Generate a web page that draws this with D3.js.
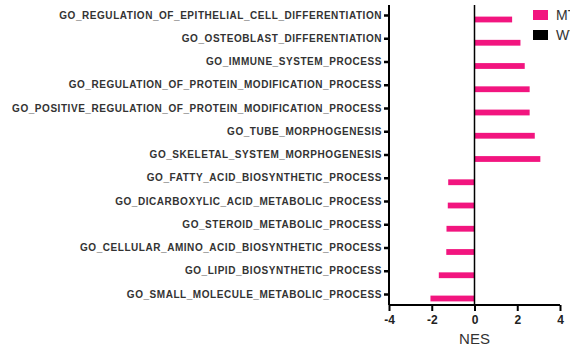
<!DOCTYPE html>
<html>
<head>
<meta charset="utf-8">
<script src="https://cdn.jsdelivr.net/npm/d3@7"></script>
<style>
  body { margin: 0; background: #fff; }
  svg { display: block; }
</style>
</head>
<body>
<div id="chart-container"></div>
<script>
// Data
const terms = [
  "GO_REGULATION_OF_EPITHELIAL_CELL_DIFFERENTIATION",
  "GO_OSTEOBLAST_DIFFERENTIATION",
  "GO_IMMUNE_SYSTEM_PROCESS",
  "GO_REGULATION_OF_PROTEIN_MODIFICATION_PROCESS",
  "GO_POSITIVE_REGULATION_OF_PROTEIN_MODIFICATION_PROCESS",
  "GO_TUBE_MORPHOGENESIS",
  "GO_SKELETAL_SYSTEM_MORPHOGENESIS",
  "GO_FATTY_ACID_BIOSYNTHETIC_PROCESS",
  "GO_DICARBOXYLIC_ACID_METABOLIC_PROCESS",
  "GO_STEROID_METABOLIC_PROCESS",
  "GO_CELLULAR_AMINO_ACID_BIOSYNTHETIC_PROCESS",
  "GO_LIPID_BIOSYNTHETIC_PROCESS",
  "GO_SMALL_MOLECULE_METABOLIC_PROCESS"
];
const nes = [1.76, 2.15, 2.35, 2.58, 2.58, 2.82, 3.08, -1.23, -1.25, -1.31, -1.32, -1.67, -2.06];
const xTicks = [-4, -2, 0, 2, 4];
const legendKeys = ["MT", "WT"];
const legendColors = ["#f2157f", "#000000"];

const margin = { top: 5, right: 10, bottom: 45, left: 389 };
const width = 560 - margin.left;
const height = 305 - margin.top;
const barH = 5.8;

const svg = d3.select("#chart-container")
  .append("svg")
    .attr("width", 570)
    .attr("height", 350)
  .append("g")
    .attr("transform", `translate(${margin.left},${margin.top})`);

const x = d3.scaleLinear().domain([-4, 4]).range([0, width]);
// tick positions per category; bars sit a few px below their tick
const y = d3.scalePoint().domain(terms).range([10, 289]);

// bars
svg.append("g")
  .selectAll("rect")
  .data(terms)
  .join("rect")
    .attr("x", (d, i) => x(Math.min(0, nes[i])))
    .attr("y", d => y(d) + 4.5 - barH / 2)
    .attr("width", (d, i) => Math.abs(x(nes[i]) - x(0)))
    .attr("height", barH)
    .attr("fill", legendColors[0]);

// zero line
svg.append("line")
  .attr("x1", x(0)).attr("x2", x(0))
  .attr("y1", 0).attr("y2", height)
  .attr("stroke", "#000")
  .attr("stroke-width", 1.5);

// y axis
const yAxis = svg.append("g")
  .call(d3.axisLeft(y).tickSize(5).tickPadding(2));
yAxis.select(".domain").attr("stroke-width", 2).attr("d", `M0,0V${height}`);
yAxis.selectAll(".tick line").attr("stroke-width", 2.5);
yAxis.selectAll("text")
  .style("font-family", "'Liberation Sans', Arial, sans-serif")
  .style("font-size", "10px")
  .style("font-weight", "bold")
  .style("letter-spacing", "0.55px")
  .style("fill", "#333");

// x axis
const xAxis = svg.append("g")
  .attr("transform", `translate(0,${height})`)
  .call(d3.axisBottom(x).tickValues(xTicks).tickFormat(d => String(d)).tickSize(6).tickPadding(4));
xAxis.select(".domain").attr("stroke-width", 2).attr("d", `M0,0H${width}`);
xAxis.selectAll(".tick line").attr("stroke-width", 2);
xAxis.selectAll("text")
  .style("font-family", "'Liberation Sans', Arial, sans-serif")
  .style("font-size", "12px")
  .style("font-weight", "bold")
  .style("fill", "#222");

// axis title
svg.append("text")
  .attr("x", x(0))
  .attr("y", height + 39)
  .attr("text-anchor", "middle")
  .style("font-family", "'Liberation Sans', Arial, sans-serif")
  .style("font-size", "15px")
  .style("fill", "#333")
  .text("NES");

// legend
const legend = svg.append("g")
  .attr("transform", `translate(${533 - margin.left},${10 - margin.top})`);
legend.selectAll("rect")
  .data(legendKeys)
  .join("rect")
    .attr("x", 0)
    .attr("y", (d, i) => i * 20)
    .attr("width", 15)
    .attr("height", 10)
    .attr("fill", (d, i) => legendColors[i]);
legend.selectAll("text")
  .data(legendKeys)
  .join("text")
    .attr("x", 23)
    .attr("y", (d, i) => i * 20 + 10)
    .style("font-family", "'Liberation Sans', Arial, sans-serif")
    .style("font-size", "14px")
    .style("fill", "#333")
    .text(d => d);
</script>
</body>
</html>
